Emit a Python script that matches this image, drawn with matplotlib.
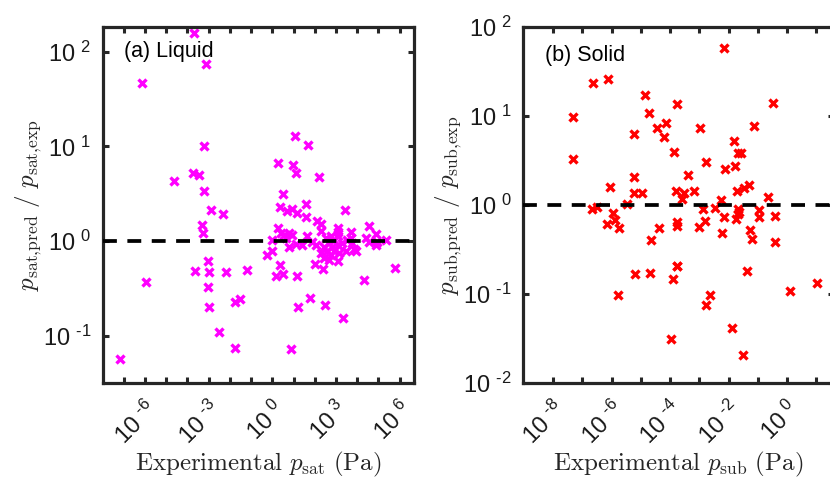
import matplotlib
import matplotlib.pyplot as plt
import numpy as np
from matplotlib.ticker import NullLocator

matplotlib.use("Agg", force=True)

plt.rcParams["font.family"] = ["Liberation Sans", "DejaVu Sans"]
plt.rcParams["mathtext.fontset"] = "custom"
plt.rcParams["mathtext.rm"] = "Liberation Sans"
plt.rcParams["mathtext.it"] = "Liberation Sans:italic"
plt.rcParams["mathtext.bf"] = "Liberation Sans:bold"
plt.rcParams["axes.unicode_minus"] = False

SPINE_COLOR = "#262626"

# (a) Liquid: log10 of experimental p_sat (Pa) and log10 of p_pred / p_exp
liquid_log_p = [
    -3.71, -3.11, -6.12, 1.08, 1.68, -3.21, 0.27, 0.98, 1.12, 2.22,
    -3.74, -3.46, -4.64, -3.24, 0.49, -2.88, -2.33, 0.36, 0.71, 0.94,
    1.18, 1.60, 1.57, 3.44, -3.33, -3.27, 2.12, 2.31, 4.53, 0.27,
    2.28, 3.07, 3.07, 3.69, 4.87, 0.39, 0.55, 0.79, 0.94, 0.63,
    0.00, 1.10, 1.42, 1.65, 0.79, 1.89, 2.04, 2.51, 2.75, 2.91,
    3.07, 2.67, 2.44, 2.83, 3.07, 2.59, 2.28, 2.75, 2.44, 2.67,
    2.91, 3.15, 3.30, 3.54, 3.69, 3.77, 3.85, 4.40, 4.56, 4.95,
    4.87, 5.34, 3.46, 3.93, -0.24, 0.00, 0.34, 0.16, 0.52, 1.15,
    2.00, 2.37, 3.11, 4.31, 5.79, -3.03, -3.65, -2.97, -2.18, -1.18,
    -5.96, -3.02, -3.00, -1.78, -1.52, 1.76, 1.23, 2.47, 3.33, -2.50,
    -1.76, 0.90, -7.18,
]
liquid_log_ratio = [
    2.20, 1.87, 1.67, 1.11, 1.01, 1.00, 0.82, 0.80, 0.72, 0.68,
    0.72, 0.70, 0.63, 0.53, 0.50, 0.33, 0.28, 0.36, 0.32, 0.34,
    0.30, 0.39, 0.25, 0.33, 0.17, 0.08, 0.21, 0.18, 0.16, 0.14,
    0.11, 0.14, 0.10, 0.09, 0.07, 0.08, 0.06, 0.08, 0.06, 0.03,
    0.01, -0.03, -0.04, 0.05, -0.06, -0.01, -0.04, 0.03, 0.05, 0.01,
    0.05, -0.02, -0.06, -0.06, -0.04, -0.11, -0.13, -0.15, -0.18, -0.20,
    -0.11, -0.13, -0.02, 0.01, 0.03, -0.02, -0.08, 0.03, -0.01, -0.01,
    -0.04, 0.01, -0.11, -0.11, -0.15, -0.11, -0.25, -0.37, -0.35, -0.37,
    -0.24, -0.30, -0.21, -0.41, -0.29, -0.21, -0.32, -0.33, -0.33, -0.31,
    -0.43, -0.49, -0.70, -0.64, -0.61, -0.60, -0.70, -0.68, -0.81, -0.96,
    -1.13, -1.14, -1.25,
]

# (b) Solid: log10 of experimental p_sub (Pa) and log10 of p_pred / p_exp
solid_log_p = [
    -2.15, -6.62, -6.13, -4.87, -3.78, -0.50, -7.31, -4.73, -4.14, -4.44,
    -2.97, -1.13, -5.22, -4.22, -1.81, -3.87, -1.68, -1.57, -7.33, -2.79,
    -1.80, -2.12, -3.38, -5.23, -6.06, -5.23, -4.96, -3.79, -3.52, -3.17,
    -1.71, -1.46, -1.31, -0.65, -2.25, -3.59, -6.68, -6.50, -5.48, -5.94,
    -6.15, -5.88, -5.74, -2.86, -2.46, -1.69, -1.66, -1.69, -2.15, -1.75,
    -2.80, -3.02, -3.76, -3.75, -4.37, -4.67, -2.23, -0.98, -0.97, -0.43,
    -1.26, -1.19, -0.42, -1.37, -3.75, -3.77, -5.19, -4.68, -3.89, -5.77,
    -2.64, -2.76, -1.87, -3.97, -1.51, 0.08, 1.03,
]
solid_log_ratio = [
    1.76, 1.37, 1.42, 1.24, 1.14, 1.15, 0.99, 1.03, 0.92, 0.86,
    0.86, 0.89, 0.80, 0.76, 0.72, 0.60, 0.58, 0.58, 0.52, 0.48,
    0.44, 0.40, 0.34, 0.31, 0.20, 0.13, 0.13, 0.16, 0.13, 0.16,
    0.16, 0.19, 0.22, 0.09, 0.06, 0.07, -0.05, -0.02, 0.01, -0.09,
    -0.21, -0.17, -0.26, -0.04, -0.03, -0.04, -0.08, -0.10, -0.14, -0.16,
    -0.18, -0.25, -0.19, -0.24, -0.26, -0.39, -0.31, -0.06, -0.13, -0.12,
    -0.28, -0.38, -0.42, -0.74, -0.68, -0.69, -0.77, -0.76, -0.83, -1.01,
    -1.01, -1.12, -1.38, -1.50, -1.69, -0.97, -0.88,
]

liquid_xticks = list(range(-7, 7))
liquid_xlabels = [-6, -3, 0, 3, 6]
liquid_yticks = [-1, 0, 1, 2]
solid_xticks = list(range(-8, 2))
solid_xlabels = [-8, -6, -4, -2, 0]
solid_yticks = [-2, -1, 0, 1, 2]


def _power_label(exp):
    # MATLAB 风格: 指数前留空, 负号用短横线
    return rf"$10^{{\hspace{{0.45}}\text{{{exp}}}}}$"


def _draw_panel(ax, log_p, log_ratio, color, xlim, ylim, xticks, xlabels,
                yticks, tag, tag_xy, xlabel, ylabel):
    """画一个面板: 散点 + y=1 虚线 + 坐标轴样式"""
    ax.set_xscale("log")
    ax.set_yscale("log")
    ax.axhline(1.0, color="black", lw=2.7, ls=(0, (3.7, 2.8)), zorder=3)
    ax.plot(10.0 ** np.array(log_p), 10.0 ** np.array(log_ratio), "x",
            color=color, ms=6, mew=2.4, ls="none", zorder=2)

    ax.set_xlim(10.0 ** xlim[0], 10.0 ** xlim[1])
    ax.set_ylim(10.0 ** ylim[0], 10.0 ** ylim[1])

    ax.set_xticks([10.0 ** e for e in xticks],
                  [_power_label(e) if e in xlabels else "" for e in xticks])
    ax.set_yticks([10.0 ** e for e in yticks],
                  [_power_label(e) for e in yticks])
    ax.xaxis.set_minor_locator(NullLocator())
    ax.yaxis.set_minor_locator(NullLocator())
    for lab in ax.get_xticklabels():
        lab.set_rotation(45)
        lab.set_ha("right")
        lab.set_va("top")
        lab.set_rotation_mode("anchor")

    ax.tick_params(which="both", direction="in", top=True, right=True,
                   length=4, width=2.2, color=SPINE_COLOR,
                   labelsize=17, labelcolor="#1a1a1a")
    ax.tick_params(axis="x", pad=10)
    ax.tick_params(axis="y", pad=8)
    for sp in ax.spines.values():
        sp.set_linewidth(2.3)
        sp.set_color(SPINE_COLOR)

    ax.text(tag_xy[0], tag_xy[1], tag, transform=ax.transAxes,
            fontsize=15.5, ha="left", va="center", color="black")

    ax.set_xlabel(xlabel, fontsize=18, math_fontfamily="cm", color="#262626")
    ax.xaxis.label.set_va("center")
    ax.xaxis.set_label_coords(0.5, -0.228)
    ax.set_ylabel(ylabel, fontsize=18, math_fontfamily="cm", color="#262626")
    ax.yaxis.label.set_va("center")
    ax.yaxis.set_label_coords(-0.238, 0.5)


fig = plt.figure(figsize=(8.3, 4.78), dpi=100)
ax_liq = fig.add_axes([0.1235, 0.1987, 0.3747, 0.7448])
ax_sol = fig.add_axes([0.6301, 0.1987, 0.3747, 0.7448])

_draw_panel(ax_liq, liquid_log_p, liquid_log_ratio, "#ff00ff",
            (-8.0, 6.65), (-1.50, 2.26), liquid_xticks, liquid_xlabels,
            liquid_yticks, "(a) Liquid", (0.069, 0.930),
            r"$\mathrm{Experimental}\ p_{\mathrm{sat}}\ \mathrm{(Pa)}$",
            r"$p_{\mathrm{sat{,}pred}}\ /\ p_{\mathrm{sat{,}exp}}$")
_draw_panel(ax_sol, solid_log_p, solid_log_ratio, "#ff0000",
            (-9.03, 1.6), (-2.0, 2.0), solid_xticks, solid_xlabels,
            solid_yticks, "(b) Solid", (0.071, 0.921),
            r"$\mathrm{Experimental}\ p_{\mathrm{sub}}\ \mathrm{(Pa)}$",
            r"$p_{\mathrm{sub{,}pred}}\ /\ p_{\mathrm{sub{,}exp}}$")

fig.savefig("out.png", dpi=100)
plt.close(fig)
